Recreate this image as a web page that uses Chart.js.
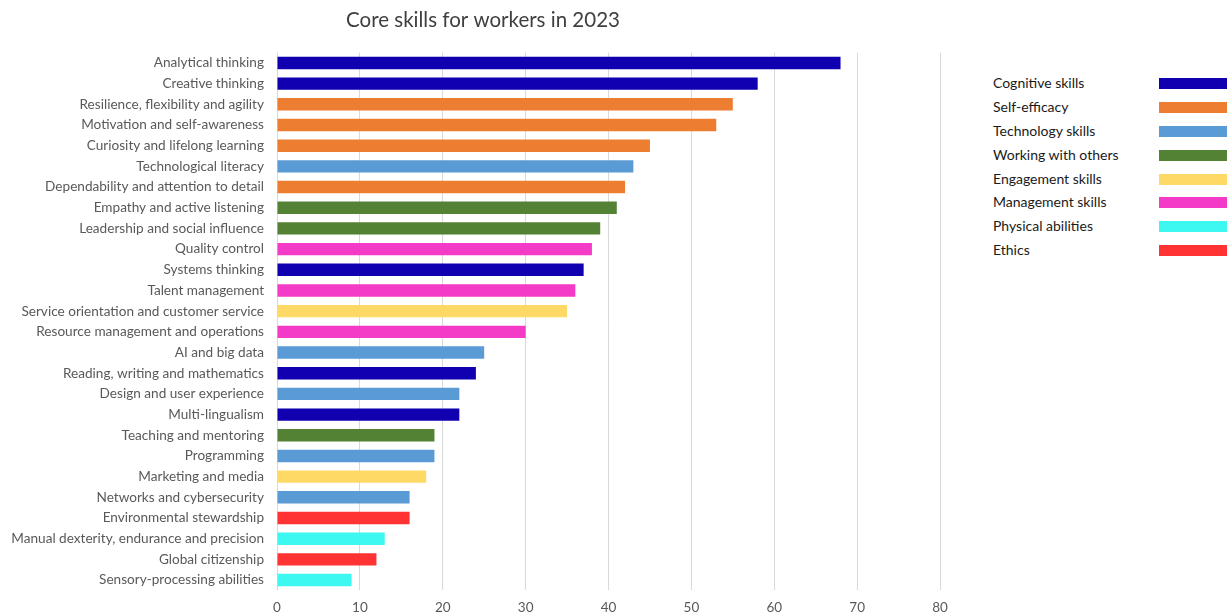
<!DOCTYPE html>
<html>
<head>
<meta charset="utf-8">
<title>Core skills for workers in 2023</title>
<script src="https://cdn.jsdelivr.net/npm/chart.js@4"></script>
<style>
  body { margin: 0; background: #fff; font-family: Lato, sans-serif; }
  #wrap { position: relative; width: 1228px; height: 616px; }
  #chartBox { position: absolute; left: 0; top: 0; width: 966px; height: 616px; }
  #legend { position: absolute; left: 993px; top: 71px; }
  .item { position: relative; height: 23.9px; width: 235px; font-size: 14px; color: #1a1a1a; line-height: 23.9px; }
  .item span.sw { position: absolute; left: 166px; top: 7px; width: 68px; height: 11px; }
</style>
</head>
<body>
<div id="wrap">
  <div id="chartBox"><canvas id="chart"></canvas></div>
  <div id="legend"></div>
</div>
<script>
// skills, their share of companies (%) and the group each belongs to
const skills = [
  'Analytical thinking', 'Creative thinking', 'Resilience, flexibility and agility',
  'Motivation and self-awareness', 'Curiosity and lifelong learning', 'Technological literacy',
  'Dependability and attention to detail', 'Empathy and active listening',
  'Leadership and social influence', 'Quality control', 'Systems thinking',
  'Talent management', 'Service orientation and customer service',
  'Resource management and operations', 'AI and big data',
  'Reading, writing and mathematics', 'Design and user experience', 'Multi-lingualism',
  'Teaching and mentoring', 'Programming', 'Marketing and media',
  'Networks and cybersecurity', 'Environmental stewardship',
  'Manual dexterity, endurance and precision', 'Global citizenship',
  'Sensory-processing abilities'
];
const values = [68, 58, 55, 53, 45, 43, 42, 41, 39, 38, 37, 36, 35, 30, 25, 24, 22, 22, 19, 19, 18, 16, 16, 13, 12, 9];
const skillGroups = [
  'Cognitive skills', 'Cognitive skills', 'Self-efficacy', 'Self-efficacy', 'Self-efficacy',
  'Technology skills', 'Self-efficacy', 'Working with others', 'Working with others',
  'Management skills', 'Cognitive skills', 'Management skills', 'Engagement skills',
  'Management skills', 'Technology skills', 'Cognitive skills', 'Technology skills',
  'Cognitive skills', 'Working with others', 'Technology skills', 'Engagement skills',
  'Technology skills', 'Ethics', 'Physical abilities', 'Ethics', 'Physical abilities'
];
const groupNames = ['Cognitive skills', 'Self-efficacy', 'Technology skills', 'Working with others',
  'Engagement skills', 'Management skills', 'Physical abilities', 'Ethics'];
const groupColors = ['#1100B0', '#ED7D31', '#5B9BD5', '#548235', '#FFD966', '#F33BC7', '#3CF8F0', '#FF3333'];
const xTicks = [0, 10, 20, 30, 40, 50, 60, 70, 80];

function colorOf(group) {
  return groupColors[groupNames.indexOf(group)];
}

// legend on the right
const legend = document.getElementById('legend');
groupNames.forEach(function (name, i) {
  const row = document.createElement('div');
  row.className = 'item';
  row.textContent = name;
  const sw = document.createElement('span');
  sw.className = 'sw';
  sw.style.background = groupColors[i];
  row.appendChild(sw);
  legend.appendChild(row);
});

// center the title across the whole canvas, not just the padded area
const titleAcross = {
  id: 'titleAcross',
  afterLayout: function (chart) {
    if (chart.titleBlock) {
      chart.titleBlock.left = 0;
      chart.titleBlock.right = chart.width;
    }
  },
};

const ctx = document.getElementById('chart').getContext('2d');
new Chart(ctx, {
  type: 'bar',
  data: {
    labels: skills,
    datasets: [{
      data: values,
      backgroundColor: skillGroups.map(colorOf),
      barPercentage: 0.6,
      categoryPercentage: 1.0,
    }],
  },
  options: {
    indexAxis: 'y',
    responsive: true,
    maintainAspectRatio: false,
    animation: false,
    layout: { padding: { left: 0, right: 26, top: 0, bottom: 0 } },
    plugins: {
      legend: { display: false },
      tooltip: { enabled: false },
      title: {
        display: true,
        text: 'Core skills for workers in 2023',
        color: '#404040',
        font: { family: 'Lato', size: 20.5, weight: 'normal' },
        padding: { top: 8, bottom: 20 },
      },
    },
    scales: {
      x: {
        min: 0,
        max: 80,
        afterBuildTicks: function (axis) {
          axis.ticks = xTicks.map(function (v) { return { value: v }; });
        },
        afterFit: function (axis) { axis.height = 25.6; },
        grid: { color: '#D9D9D9', drawTicks: false },
        border: { display: false },
        ticks: { color: '#595959', font: { family: 'Lato', size: 13.5 }, padding: 9 },
      },
      y: {
        afterFit: function (axis) { axis.width = 277; },
        grid: { display: false, drawTicks: false },
        border: { display: false },
        ticks: { color: '#595959', font: { family: 'Lato', size: 13.6 }, padding: 13, autoSkip: false },
      },
    },
  },
  plugins: [titleAcross],
});
</script>
</body>
</html>
